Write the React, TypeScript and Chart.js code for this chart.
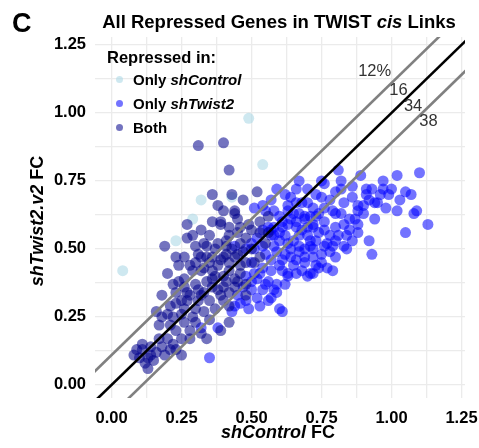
import React, { useEffect, useRef } from "react";
import { Chart, registerables } from "chart.js";

Chart.register(...registerables);

const FONT = '"Liberation Sans", Arial, Helvetica, sans-serif';

// Repressed only in shControl
const onlyControl: [number, number][] = [
  [0.04, 0.42], [0.49, 0.98], [0.54, 0.81], [0.32, 0.68], [0.29, 0.61], [0.23, 0.53], [0.43, 0.69],
];

// Repressed only in shTwist2
const onlyTwist: [number, number][] = [
  [1.10, 0.78], [1.02, 0.77], [0.97, 0.75], [0.89, 0.77], [0.81, 0.79], [0.82, 0.75], [0.75, 0.75],
  [0.67, 0.75], [0.91, 0.72], [0.93, 0.72], [1.00, 0.72], [1.05, 0.71], [1.07, 0.70], [0.91, 0.70],
  [0.99, 0.70], [0.86, 0.69], [0.83, 0.67], [0.73, 0.70], [0.80, 0.71], [0.70, 0.67], [0.88, 0.66],
  [0.95, 0.67], [0.98, 0.65], [0.94, 0.61], [1.02, 0.64], [1.08, 0.63], [1.09, 0.64], [1.13, 0.59],
  [1.05, 0.56], [0.92, 0.53], [0.93, 0.48], [0.88, 0.59], [0.85, 0.57], [0.88, 0.56], [0.83, 0.59],
  [0.79, 0.64], [0.76, 0.65], [0.82, 0.63], [0.80, 0.58], [0.86, 0.53], [0.80, 0.53], [0.76, 0.57],
  [0.73, 0.53], [0.70, 0.55], [0.69, 0.61], [0.76, 0.60], [0.73, 0.62], [0.79, 0.51], [0.83, 0.51],
  [0.76, 0.51], [0.72, 0.50], [0.69, 0.50], [0.59, 0.72], [0.76, 0.74], [0.82, 0.72], [0.68, 0.67],
  [0.63, 0.64], [0.54, 0.66], [0.64, 0.61], [0.61, 0.58], [0.66, 0.58], [0.72, 0.59], [0.57, 0.57],
  [0.67, 0.55], [0.71, 0.53], [0.77, 0.52], [0.60, 0.53], [0.64, 0.50], [0.94, 0.67], [0.90, 0.66],
  [0.88, 0.64], [0.85, 0.61], [0.80, 0.63], [0.79, 0.42], [0.77, 0.43], [0.74, 0.43], [0.71, 0.41],
  [0.70, 0.40], [0.63, 0.40], [0.61, 0.27], [0.84, 0.50], [0.78, 0.49], [0.75, 0.48], [0.67, 0.49],
  [0.64, 0.47], [0.61, 0.46], [0.61, 0.42], [0.55, 0.64], [0.54, 0.57], [0.58, 0.58], [0.63, 0.66],
  [0.65, 0.63], [0.66, 0.67], [0.69, 0.62], [0.72, 0.58], [0.63, 0.59], [0.60, 0.56], [0.57, 0.55],
  [0.52, 0.54], [0.51, 0.50], [0.54, 0.51], [0.58, 0.51], [0.63, 0.52], [0.67, 0.51], [0.71, 0.51],
  [0.73, 0.44], [0.65, 0.44], [0.60, 0.44], [0.57, 0.46], [0.50, 0.45], [0.48, 0.40], [0.52, 0.39],
  [0.56, 0.38], [0.59, 0.37], [0.52, 0.32], [0.56, 0.31], [0.60, 0.28], [0.72, 0.41], [0.38, 0.21],
  [0.32, 0.21], [0.35, 0.10], [0.57, 0.32], [0.46, 0.30], [0.44, 0.29], [0.53, 0.41], [0.55, 0.37],
  [0.59, 0.34], [0.63, 0.41], [0.64, 0.69], [0.51, 0.65], [0.56, 0.58], [0.58, 0.55], [0.50, 0.52],
  [0.48, 0.50], [0.44, 0.51], [0.47, 0.36], [0.50, 0.35], [0.45, 0.33], [0.43, 0.27], [0.49, 0.28],
  [0.62, 0.55], [0.65, 0.53], [0.68, 0.57], [0.70, 0.58], [0.74, 0.56], [0.78, 0.55], [0.81, 0.55],
  [0.84, 0.55], [0.87, 0.61], [0.90, 0.63], [0.92, 0.68], [0.96, 0.70], [0.97, 0.72], [1.03, 0.68],
  [0.86, 0.73], [0.78, 0.68], [0.75, 0.69], [0.72, 0.65], [0.67, 0.63], [0.60, 0.62], [0.58, 0.64],
  [0.57, 0.68], [0.62, 0.70], [0.66, 0.72], [0.70, 0.72], [0.55, 0.48], [0.59, 0.49], [0.62, 0.48],
  [0.66, 0.46], [0.69, 0.45], [0.68, 0.42], [0.54, 0.43], [0.57, 0.42], [0.51, 0.41], [0.54, 0.35],
  [0.58, 0.35], [0.50, 0.38], [0.48, 0.31], [0.53, 0.29], [0.62, 0.37], [0.66, 0.41], [0.75, 0.45],
  [0.72, 0.47], [0.69, 0.47], [0.80, 0.47], [0.74, 0.63], [0.66, 0.60], [0.61, 0.60], [0.71, 0.62],
];

// Repressed in both
const both: [number, number][] = [
  [0.31, 0.88], [0.40, 0.89], [0.42, 0.79], [0.36, 0.70], [0.43, 0.70], [0.47, 0.68], [0.52, 0.71],
  [0.38, 0.66], [0.40, 0.64], [0.44, 0.64], [0.44, 0.63], [0.45, 0.61], [0.36, 0.60], [0.39, 0.60],
  [0.39, 0.59], [0.42, 0.58], [0.49, 0.59], [0.45, 0.56], [0.32, 0.57], [0.27, 0.59], [0.27, 0.54],
  [0.19, 0.51], [0.56, 0.62], [0.38, 0.52], [0.41, 0.53], [0.46, 0.52], [0.41, 0.51], [0.45, 0.48],
  [0.32, 0.47], [0.36, 0.47], [0.41, 0.48], [0.31, 0.48], [0.34, 0.47], [0.39, 0.46], [0.42, 0.45],
  [0.46, 0.44], [0.33, 0.43], [0.36, 0.42], [0.29, 0.42], [0.32, 0.42], [0.38, 0.44], [0.42, 0.42],
  [0.46, 0.41], [0.26, 0.39], [0.30, 0.37], [0.36, 0.39], [0.40, 0.40], [0.44, 0.39], [0.37, 0.40],
  [0.41, 0.38], [0.48, 0.37], [0.44, 0.36], [0.38, 0.35], [0.33, 0.34], [0.28, 0.33], [0.42, 0.34],
  [0.48, 0.33], [0.35, 0.31], [0.40, 0.31], [0.30, 0.28], [0.26, 0.28], [0.23, 0.30], [0.20, 0.41],
  [0.24, 0.38], [0.18, 0.33], [0.23, 0.34], [0.27, 0.34], [0.27, 0.31], [0.32, 0.33], [0.34, 0.38],
  [0.20, 0.26], [0.16, 0.27], [0.17, 0.22], [0.21, 0.22], [0.26, 0.23], [0.28, 0.20], [0.23, 0.20],
  [0.20, 0.17], [0.25, 0.17], [0.30, 0.23], [0.35, 0.24], [0.42, 0.23], [0.39, 0.20], [0.34, 0.17],
  [0.18, 0.14], [0.21, 0.13], [0.25, 0.11], [0.11, 0.15], [0.11, 0.13], [0.08, 0.11], [0.10, 0.10],
  [0.13, 0.10], [0.15, 0.09], [0.12, 0.08], [0.14, 0.11], [0.50, 0.50], [0.48, 0.45], [0.51, 0.45],
  [0.53, 0.47], [0.55, 0.52], [0.47, 0.49], [0.43, 0.50], [0.30, 0.45], [0.35, 0.45], [0.40, 0.47],
  [0.44, 0.47], [0.37, 0.50], [0.34, 0.51], [0.30, 0.51], [0.26, 0.47], [0.24, 0.44], [0.28, 0.44],
  [0.22, 0.37], [0.26, 0.36], [0.31, 0.35], [0.36, 0.36], [0.40, 0.36], [0.45, 0.38], [0.39, 0.33],
  [0.31, 0.31], [0.25, 0.31], [0.21, 0.29], [0.18, 0.25], [0.22, 0.25], [0.25, 0.26], [0.29, 0.25],
  [0.33, 0.27], [0.37, 0.28], [0.42, 0.29], [0.32, 0.19], [0.28, 0.17], [0.22, 0.15], [0.17, 0.17],
  [0.14, 0.14], [0.19, 0.11], [0.16, 0.12], [0.09, 0.13], [0.13, 0.06], [0.23, 0.13], [0.48, 0.54],
  [0.50, 0.57], [0.53, 0.60], [0.46, 0.58], [0.42, 0.55], [0.35, 0.55], [0.33, 0.52], [0.29, 0.55],
  [0.23, 0.47], [0.53, 0.56], [0.56, 0.56],
];

// Reference lines: y = x + offset
const lineOffsets = [0, 0.11, -0.11];
const lineColors = ["#000000", "#808080", "#808080"];

// Axis ticks
const gridValues = [0, 0.125, 0.25, 0.375, 0.5, 0.625, 0.75, 0.875, 1, 1.125, 1.25];
const majorValues = [0, 0.25, 0.5, 0.75, 1, 1.25];
const majorLabels = ["0.00", "0.25", "0.50", "0.75", "1.00", "1.25"];

// Text annotations near the reference lines
const annotationLabels = ["12%", "16", "34", "38"];
const annotationX = [0.94, 1.025, 1.077, 1.132];
const annotationY = [1.154, 1.081, 1.024, 0.969];

const COL_CONTROL = "rgba(173,216,230,0.6)";
const COL_TWIST = "rgba(0,0,255,0.55)";
const COL_BOTH = "rgba(0,0,139,0.55)";

const tickLabel = (v: number) => {
  const i = majorValues.findIndex((m) => Math.abs(m - v) < 1e-6);
  return i >= 0 ? majorLabels[i] : "";
};

const annotationPlugin = {
  id: "annotations",
  afterDatasetsDraw(chart: any) {
    const { ctx, scales } = chart;
    ctx.save();
    ctx.font = `16.5px ${FONT}`;
    ctx.fillStyle = "#333333";
    ctx.textAlign = "center";
    ctx.textBaseline = "middle";
    annotationLabels.forEach((t, i) => {
      ctx.fillText(t, scales.x.getPixelForValue(annotationX[i]), scales.y.getPixelForValue(annotationY[i]));
    });
    ctx.restore();
  },
};

export default function App() {
  const ref = useRef<HTMLCanvasElement | null>(null);

  useEffect(() => {
    if (!ref.current) return;
    const toXY = (arr: [number, number][]) => arr.map(([x, y]) => ({ x, y }));
    const lineSets = lineOffsets.map((off, i) => ({
      data: [
        { x: -0.5, y: -0.5 + off },
        { x: 1.6, y: 1.6 + off },
      ],
      showLine: true,
      borderColor: lineColors[i],
      borderWidth: 2.6,
      pointRadius: 0,
      fill: false,
    }));
    const pointStyle = { borderWidth: 0, pointRadius: 5.5, pointHoverRadius: 5.5 };
    const chart = new Chart(ref.current, {
      type: "scatter",
      data: {
        datasets: [
          ...lineSets,
          { data: toXY(both), backgroundColor: COL_BOTH, ...pointStyle },
          { data: toXY(onlyTwist), backgroundColor: COL_TWIST, ...pointStyle },
          { data: toXY(onlyControl), backgroundColor: COL_CONTROL, ...pointStyle },
        ] as any,
      },
      options: {
        animation: false,
        responsive: false,
        maintainAspectRatio: false,
        devicePixelRatio: 1,
        layout: { padding: { top: 37, right: 14, bottom: 0, left: 0 } },
        plugins: { legend: { display: false }, tooltip: { enabled: false }, title: { display: false } },
        scales: {
          x: {
            type: "linear",
            min: -0.059,
            max: 1.2625,
            afterBuildTicks: (s: any) => {
              s.ticks = gridValues.map((v) => ({ value: v }));
            },
            afterFit: (s: any) => {
              s.height = 50;
              s.paddingLeft = 0;
              s.paddingRight = 0;
            },
            grid: { color: "#ebebeb", lineWidth: 1.3, drawTicks: false },
            border: { display: false },
            ticks: {
              autoSkip: false,
              maxRotation: 0,
              minRotation: 0,
              padding: 11,
              color: "#000000",
              font: { family: FONT, size: 16.5, weight: "bold" },
              callback: (v: any) => tickLabel(Number(v)),
            },
          },
          y: {
            type: "linear",
            min: -0.048,
            max: 1.279,
            afterBuildTicks: (s: any) => {
              s.ticks = gridValues.map((v) => ({ value: v }));
            },
            afterFit: (s: any) => {
              s.width = 95;
              s.paddingTop = 0;
              s.paddingBottom = 0;
            },
            grid: { color: "#ebebeb", lineWidth: 1.3, drawTicks: false },
            border: { display: false },
            ticks: {
              autoSkip: false,
              padding: 9,
              color: "#000000",
              font: { family: FONT, size: 16.5, weight: "bold" },
              callback: (v: any) => tickLabel(Number(v)),
            },
          },
        },
      } as any,
      plugins: [annotationPlugin],
    });
    return () => chart.destroy();
  }, []);

  const dot = (top: number, color: string) => (
    <div
      style={{
        position: "absolute",
        left: 115.5,
        top,
        width: 7,
        height: 7,
        borderRadius: "50%",
        background: color,
      }}
    />
  );

  return (
    <div
      style={{
        position: "absolute",
        left: 0,
        top: 0,
        width: 479,
        height: 448,
        overflow: "hidden",
        background: "#ffffff",
        fontFamily: FONT,
        color: "#000",
      }}
    >
      <canvas ref={ref} width={479} height={448} style={{ position: "absolute", left: 0, top: 0, display: "block" }} />
      <div style={{ position: "absolute", left: 12, top: 10, fontSize: 27, lineHeight: 1, fontWeight: "bold" }}>C</div>
      <div
        style={{
          position: "absolute",
          left: 100,
          top: 12.6,
          width: 358,
          textAlign: "center",
          whiteSpace: "nowrap",
          fontSize: 18.5,
          lineHeight: 1,
          fontWeight: "bold",
        }}
      >
        All Repressed Genes in TWIST <i>cis</i> Links
      </div>
      <div
        style={{
          position: "absolute",
          left: 178,
          top: 422.5,
          width: 200,
          textAlign: "center",
          whiteSpace: "nowrap",
          fontSize: 18,
          lineHeight: 1,
          fontWeight: "bold",
        }}
      >
        <i>shControl</i> FC
      </div>
      <div
        style={{
          position: "absolute",
          left: -63.5,
          top: 210,
          width: 200,
          height: 22,
          lineHeight: "22px",
          textAlign: "center",
          whiteSpace: "nowrap",
          fontSize: 18,
          fontWeight: "bold",
          transform: "rotate(-90deg)",
        }}
      >
        <i>shTwist2.v2</i> FC
      </div>
      <div style={{ position: "absolute", left: 107, top: 48.7, fontSize: 16.5, lineHeight: 1, fontWeight: "bold", whiteSpace: "nowrap" }}>
        Repressed in:
      </div>
      {dot(75.5, COL_CONTROL)}
      {dot(99.5, COL_TWIST)}
      {dot(123.5, COL_BOTH)}
      <div style={{ position: "absolute", left: 133, top: 71.6, fontSize: 15, lineHeight: 1, fontWeight: "bold", whiteSpace: "nowrap" }}>
        Only <i>shControl</i>
      </div>
      <div style={{ position: "absolute", left: 133, top: 95.6, fontSize: 15, lineHeight: 1, fontWeight: "bold", whiteSpace: "nowrap" }}>
        Only <i>shTwist2</i>
      </div>
      <div style={{ position: "absolute", left: 133, top: 119.6, fontSize: 15, lineHeight: 1, fontWeight: "bold", whiteSpace: "nowrap" }}>
        Both
      </div>
    </div>
  );
}
